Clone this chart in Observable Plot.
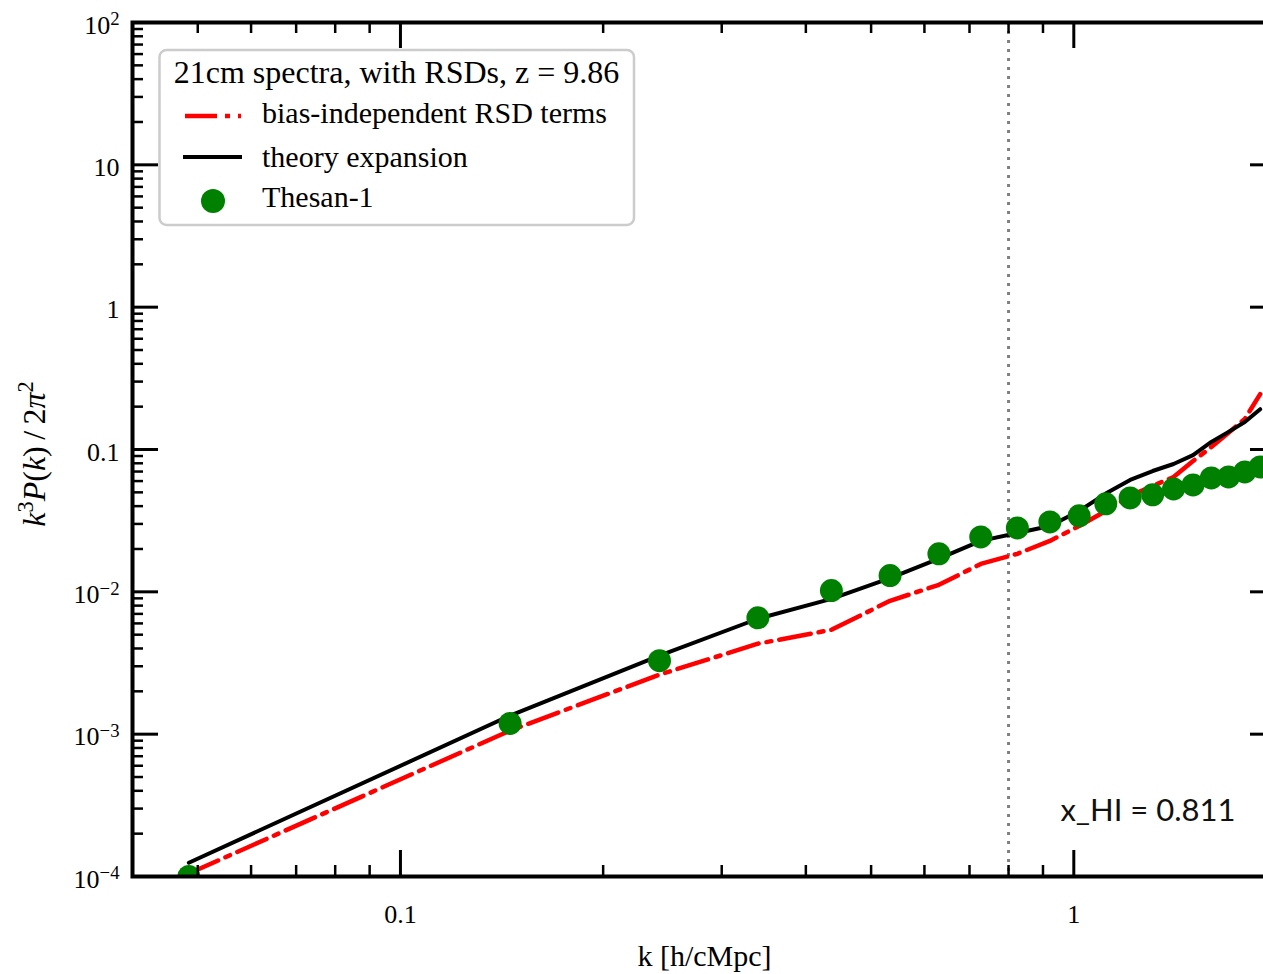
<!DOCTYPE html>
<html><head><meta charset="utf-8">
<script src="https://cdn.jsdelivr.net/npm/d3@7"></script>
<script src="https://cdn.jsdelivr.net/npm/@observablehq/plot@0.6"></script>
<style>
html,body{margin:0;padding:0;background:#fff;overflow:hidden;}
#wrap{position:relative;width:1263px;height:974px;overflow:hidden;}
#wrap > svg.plotsvg{max-width:none !important;width:1290px !important;height:974px !important;display:block;}
#legend{position:absolute;left:150px;top:40px;}
</style></head><body><div id="wrap"></div>
<script>
// ---- data ----
const k = [0.0485, 0.1455, 0.2425, 0.3395, 0.4365, 0.5335, 0.6305, 0.7275, 0.8245, 0.9215,
           1.0185, 1.1155, 1.2125, 1.3095, 1.4065, 1.5035, 1.6005, 1.6975, 1.7945, 1.8915];
const thesan = [1.0e-4, 1.19e-3, 3.28e-3, 6.57e-3, 0.0102, 0.0130, 0.0185, 0.0243, 0.0281, 0.0310,
                0.0342, 0.0415, 0.0457, 0.0480, 0.0528, 0.0564, 0.0631, 0.0641, 0.0695, 0.0754];
const theory = [1.25e-4, 1.35e-3, 3.56e-3, 6.47e-3, 8.93e-3, 0.0125, 0.0171, 0.0228, 0.0259, 0.0290,
                0.0370, 0.0490, 0.0611, 0.0706, 0.0791, 0.0914, 0.113, 0.133, 0.156, 0.192];
const rsdTerms = [1.05e-4, 1.06e-3, 2.62e-3, 4.32e-3, 5.41e-3, 8.65e-3, 0.0112, 0.0157, 0.0185, 0.0228,
                  0.0290, 0.0370, 0.0472, 0.0555, 0.0641, 0.0830, 0.104, 0.131, 0.164, 0.245];
const kNL = 0.8;
const xTicksMajor = [0.1, 1];
const xTickLabels = ["0.1", "1"];
const yTicksMajor = [1e-4, 1e-3, 1e-2, 0.1, 1, 10, 100];
const yTickLabels = ["10^\u22124", "10^\u22123", "10^\u22122", "0.1", "1", "10", "10^2"];
const seriesNames = ["bias-independent RSD terms", "theory expansion", "Thesan-1"];
const legendTitle = "21cm spectra, with RSDs, z = 9.86";
const xLabel = "k [h/cMpc]";
const xhiLabel = "x_HI = 0.811";

// minor ticks
const xTicksMinor = [];
for (const dec of [0.01, 0.1, 1]) for (let m = 2; m <= 9; m++) { const v = +(m * dec).toPrecision(3); if (v >= 0.04 && v <= 2) xTicksMinor.push(v); }
const yTicksMinor = [];
for (let e = -4; e < 2; e++) for (let m = 2; m <= 9; m++) yTicksMinor.push(m * Math.pow(10, e));

const rows = k.map((kk, i) => ({k: kk, thesan: thesan[i], theory: theory[i], rsd: rsdTerms[i]}));

// ---- layout ----
const W = 1290, H = 974, ML = 132, MR = 14, MT = 22, MB = 98;
const fw = W - ML - MR, fh = H - MT - MB;
const majorLen = 26, minorLen = 11;

const plot = Plot.plot({
  width: W, height: H,
  marginLeft: ML, marginRight: MR, marginTop: MT, marginBottom: MB,
  style: {fontFamily: "'Liberation Serif', serif", fontSize: "26px", background: "white", color: "black", overflow: "visible"},
  x: {type: "log", domain: [0.04, 2]},
  y: {type: "log", domain: [1e-4, 1e2]},
  marks: [
    Plot.ruleX([kNL], {x: d => d, stroke: "#808080", strokeWidth: 3, strokeDasharray: "3,6"}),
    Plot.line(rows, {x: "k", y: "rsd", stroke: "#ff0000", strokeWidth: 4.5, strokeDasharray: "32,8,5,8", clip: true}),
    Plot.line(rows, {x: "k", y: "theory", stroke: "black", strokeWidth: 4, clip: true}),
    Plot.dot(rows, {x: "k", y: "thesan", r: 11.5, fill: "#008000", stroke: "none", clip: true}),
    // inward ticks
    Plot.tickX(xTicksMinor, {x: d => d, insetTop: fh - minorLen, stroke: "black", strokeWidth: 2.5}),
    Plot.tickX(xTicksMinor, {x: d => d, insetBottom: fh - minorLen, stroke: "black", strokeWidth: 2.5}),
    Plot.tickX(xTicksMajor, {x: d => d, insetTop: fh - majorLen, stroke: "black", strokeWidth: 3}),
    Plot.tickX(xTicksMajor, {x: d => d, insetBottom: fh - majorLen, stroke: "black", strokeWidth: 3}),
    Plot.tickY(yTicksMinor, {y: d => d, insetRight: fw - minorLen, stroke: "black", strokeWidth: 2.5}),
    Plot.tickY(yTicksMinor, {y: d => d, insetLeft: fw - minorLen, stroke: "black", strokeWidth: 2.5}),
    Plot.tickY(yTicksMajor, {y: d => d, insetRight: fw - majorLen, stroke: "black", strokeWidth: 3}),
    Plot.tickY(yTicksMajor, {y: d => d, insetLeft: fw - majorLen, stroke: "black", strokeWidth: 3}),
    Plot.frame({stroke: "black", strokeWidth: 4}),
    Plot.axisX({ticks: xTicksMajor, tickSize: 0, tickPadding: 28, fontSize: 26, label: null,
                tickFormat: d => xTickLabels[xTicksMajor.indexOf(d)]}),
    Plot.axisY({ticks: yTicksMajor, tickSize: 0, tickPadding: 13, fontSize: 26, label: null, dy: 3,
                tickFormat: d => yTickLabels[yTicksMajor.indexOf(d)]}),
    Plot.text([xLabel], {text: d => d, frameAnchor: "bottom", lineAnchor: "bottom", dy: 89, fontSize: 30}),
    Plot.text([xhiLabel], {text: d => d, frameAnchor: "bottom-right", textAnchor: "end", lineAnchor: "bottom",
                           dx: -41, dy: -56, fontSize: 31, fontFamily: "Lato, sans-serif", fill: "#111"})
  ]
});
plot.classList.add("plotsvg");
plot.style.maxWidth = "none";
plot.style.width = W + "px";
plot.style.height = H + "px";

// superscripts in tick labels
d3.select(plot).selectAll("text").each(function() {
  const t = this.textContent;
  if (t.includes("^")) {
    const [base, sup] = t.split("^");
    const sel = d3.select(this);
    sel.text(null);
    sel.append("tspan").text(base);
    sel.append("tspan").attr("dy", "-0.45em").attr("font-size", "72%").text(sup);
  }
});

// y-axis label with math styling
const yl = d3.select(plot).append("text")
  .attr("transform", "translate(45,454) rotate(-90)")
  .attr("text-anchor", "middle")
  .attr("font-size", 32)
  .attr("font-family", "'Liberation Serif', serif")
  .attr("fill", "black");
yl.append("tspan").attr("font-style", "italic").text("k");
yl.append("tspan").attr("baseline-shift", "super").attr("font-size", "70%").text("3");
yl.append("tspan").attr("font-style", "italic").text("P");
yl.append("tspan").text("(");
yl.append("tspan").attr("font-style", "italic").text("k");
yl.append("tspan").text(")\u2009/\u20092");
yl.append("tspan").attr("font-style", "italic").text("\u03C0");
yl.append("tspan").attr("baseline-shift", "super").attr("font-size", "70%").text("2");

const wrap = document.getElementById("wrap");
wrap.appendChild(plot);

// legend (overlay)
const lg = d3.select(wrap).append("svg").attr("id", "legend").attr("width", 500).attr("height", 200)
  .style("font-family", "'Liberation Serif', serif");
lg.append("rect").attr("x", 9.5).attr("y", 10).attr("width", 474.5).attr("height", 175).attr("rx", 7)
  .attr("fill", "white").attr("stroke", "#cccccc").attr("stroke-width", 2.5);
lg.append("text").attr("x", 246.5).attr("y", 43).attr("text-anchor", "middle").attr("font-size", 32).text(legendTitle);
lg.append("line").attr("x1", 35).attr("x2", 91).attr("y1", 76).attr("y2", 76)
  .attr("stroke", "#ff0000").attr("stroke-width", 4.5).attr("stroke-dasharray", "32,8,5,8");
lg.append("line").attr("x1", 33).attr("x2", 92).attr("y1", 117).attr("y2", 117)
  .attr("stroke", "black").attr("stroke-width", 4);
lg.append("circle").attr("cx", 63).attr("cy", 161).attr("r", 12).attr("fill", "#008000");
[[83, seriesNames[0]], [127, seriesNames[1]], [167, seriesNames[2]]].forEach(([y, t]) =>
  lg.append("text").attr("x", 112).attr("y", y).attr("font-size", 30).text(t));
</script>
</body></html>
